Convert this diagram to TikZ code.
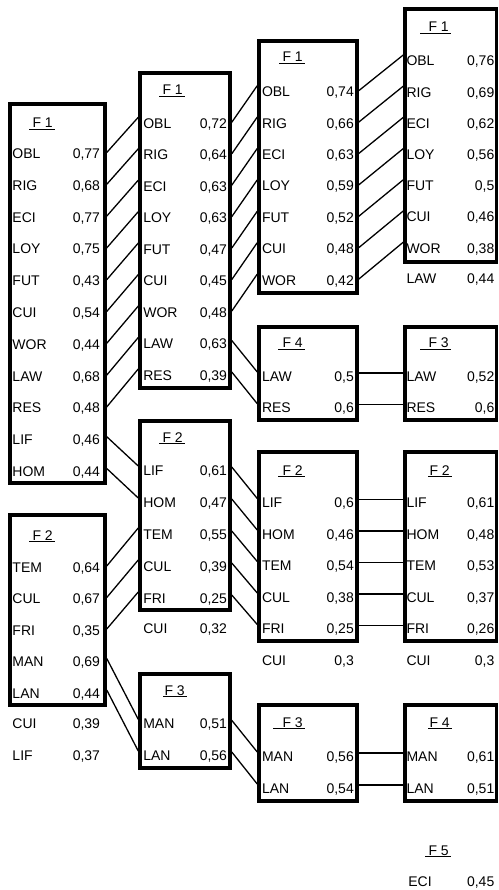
\documentclass[tikz,border=0pt]{standalone}
\usepackage{fontspec}
\setmainfont{Liberation Sans}
\usetikzlibrary{calc,fit}
\tikzset{
  txt/.style={inner sep=0pt, outer sep=0pt, font=\fontsize{14pt}{16pt}\selectfont, text height=10pt, text depth=0pt},
  lab/.style={txt, anchor=west},
  val/.style={txt, anchor=east},
  box/.style={draw, line width=3.5pt, inner sep=0pt},
  conn/.style={line width=1.3pt},
  ulin/.style={line width=1.2pt},
}
\newcommand\ent[6]{\node[lab] (#1) at (#2,#4) {#5}; \node[val] (#1v) at (#3,#4) {#6};}
\newcommand\ttl[5]{\node[lab] (#1) at (#3,#4) {#5};
  \draw[ulin] ($(#1.south west)+(#2-#3,1.5)$) -- ($(#1.south east)+(2,1.5)$);}
\newcommand\lnup[4]{\draw[conn] ($(#1.east|-#2)+(0,-1)$) -- ($(#3.west|-#4)+(0,-6)$);}
\newcommand\lndn[4]{\draw[conn] ($(#1.east|-#2)+(0,-3)$) -- ($(#3.west|-#4)+(0,-4)$);}
\newcommand\lnh[4]{\draw[conn] ($(#1.east|-#2)+(0,-3)$) -- ($(#3.west|-#4)+(0,-3)$);}
\begin{document}
\begin{tikzpicture}[x=1pt,y=-1pt]
\fill[white] (0,0) rectangle (498,890);
\useasboundingbox (0,0) rectangle (498,890);

% ---------- column A ----------
\node[box, fit={(10,104) (105,483)}] (A1) {};
\ttl{a1t}{29}{32.5}{123}{F 1}
\ent{a1obl}{12.5}{100}{153.5}{OBL}{0,77}
\ent{a1rig}{12.5}{100}{185.3}{RIG}{0,68}
\ent{a1eci}{12.5}{100}{217.1}{ECI}{0,77}
\ent{a1loy}{12.5}{100}{248.9}{LOY}{0,75}
\ent{a1fut}{12.5}{100}{280.7}{FUT}{0,43}
\ent{a1cui}{12.5}{100}{312.5}{CUI}{0,54}
\ent{a1wor}{12.5}{100}{344.3}{WOR}{0,44}
\ent{a1law}{12.5}{100}{376.1}{LAW}{0,68}
\ent{a1res}{12.5}{100}{407.9}{RES}{0,48}
\ent{a1lif}{12.5}{100}{439.7}{LIF}{0,46}
\ent{a1hom}{12.5}{100}{471.5}{HOM}{0,44}

\node[box, fit={(10,515) (105,705)}] (A2) {};
\ttl{a2t}{29}{32.5}{535}{F 2}
\ent{a2tem}{12.5}{100}{567}{TEM}{0,64}
\ent{a2cul}{12.5}{100}{598.5}{CUL}{0,67}
\ent{a2fri}{12.5}{100}{630}{FRI}{0,35}
\ent{a2man}{12.5}{100}{661.5}{MAN}{0,69}
\ent{a2lan}{12.5}{100}{693}{LAN}{0,44}
\ent{a2xcui}{12.5}{100}{723.5}{CUI}{0,39}
\ent{a2xlif}{12.5}{100}{755}{LIF}{0,37}

% ---------- column B ----------
\node[box, fit={(140,73) (230,388)}] (B1) {};
\ttl{b1t}{159}{162.5}{90}{F 1}
\ent{b1obl}{143.3}{227}{123.3}{OBL}{0,72}
\ent{b1rig}{143.3}{227}{154.8}{RIG}{0,64}
\ent{b1eci}{143.3}{227}{186.2}{ECI}{0,63}
\ent{b1loy}{143.3}{227}{217.7}{LOY}{0,63}
\ent{b1fut}{143.3}{227}{249.1}{FUT}{0,47}
\ent{b1cui}{143.3}{227}{280.6}{CUI}{0,45}
\ent{b1wor}{143.3}{227}{312.1}{WOR}{0,48}
\ent{b1law}{143.3}{227}{343.5}{LAW}{0,63}
\ent{b1res}{143.3}{227}{375}{RES}{0,39}

\node[box, fit={(140,421) (230,610)}] (B2) {};
\ttl{b2t}{159}{162.5}{437}{F 2}
\ent{b2lif}{143.3}{227}{470}{LIF}{0,61}
\ent{b2hom}{143.3}{227}{502}{HOM}{0,47}
\ent{b2tem}{143.3}{227}{534}{TEM}{0,55}
\ent{b2cul}{143.3}{227}{566}{CUL}{0,39}
\ent{b2fri}{143.3}{227}{598}{FRI}{0,25}
\ent{b2xcui}{143.3}{227}{628.5}{CUI}{0,32}

\node[box, fit={(140,674) (230,768)}] (B3) {};
\ttl{b3t}{163}{164.5}{690}{F 3}
\ent{b3man}{143.3}{227}{723.3}{MAN}{0,51}
\ent{b3lan}{143.3}{227}{755}{LAN}{0,56}

% ---------- column C ----------
\node[box, fit={(259,41) (357,293)}] (C1) {};
\ttl{c1t}{279}{282.5}{57}{F 1}
\ent{c1obl}{262}{353.8}{91.7}{OBL}{0,74}
\ent{c1rig}{262}{353.8}{123.1}{RIG}{0,66}
\ent{c1eci}{262}{353.8}{154.5}{ECI}{0,63}
\ent{c1loy}{262}{353.8}{185.9}{LOY}{0,59}
\ent{c1fut}{262}{353.8}{217.3}{FUT}{0,52}
\ent{c1cui}{262}{353.8}{248.7}{CUI}{0,48}
\ent{c1wor}{262}{353.8}{280.1}{WOR}{0,42}

\node[box, fit={(259,327) (357,420)}] (C4) {};
\ttl{c4t}{278}{282.5}{342.7}{F 4}
\ent{c4law}{262}{353.8}{376}{LAW}{0,5}
\ent{c4res}{262}{353.8}{407.7}{RES}{0,6}

\node[box, fit={(259,452) (357,641)}] (C2) {};
\ttl{c2t}{278}{282.5}{470}{F 2}
\ent{c2lif}{262}{353.8}{502.5}{LIF}{0,6}
\ent{c2hom}{262}{353.8}{534}{HOM}{0,46}
\ent{c2tem}{262}{353.8}{565.5}{TEM}{0,54}
\ent{c2cul}{262}{353.8}{597}{CUL}{0,38}
\ent{c2fri}{262}{353.8}{628.5}{FRI}{0,25}
\ent{c2xcui}{262}{353.8}{660}{CUI}{0,3}

\node[box, fit={(259,705) (357,801)}] (C3) {};
\ttl{c3t}{273}{282.5}{722.3}{F 3}
\ent{c3man}{262}{353.8}{756}{MAN}{0,56}
\ent{c3lan}{262}{353.8}{788}{LAN}{0,54}

% ---------- column D ----------
\node[box, fit={(405,9) (496.5,262)}] (D1) {};
\ttl{d1t}{420}{428.5}{26.7}{F 1}
\ent{d1obl}{406.5}{494.3}{61}{OBL}{0,76}
\ent{d1rig}{406.5}{494.3}{92.2}{RIG}{0,69}
\ent{d1eci}{406.5}{494.3}{123.4}{ECI}{0,62}
\ent{d1loy}{406.5}{494.3}{154.6}{LOY}{0,56}
\ent{d1fut}{406.5}{494.3}{185.8}{FUT}{0,5}
\ent{d1cui}{406.5}{494.3}{217}{CUI}{0,46}
\ent{d1wor}{406.5}{494.3}{248.2}{WOR}{0,38}
\ent{d1xlaw}{406.5}{494.3}{278.3}{LAW}{0,44}

\node[box, fit={(405,327) (496.5,420)}] (D3) {};
\ttl{d3t}{420}{428.5}{342.7}{F 3}
\ent{d3law}{406.5}{494.3}{376}{LAW}{0,52}
\ent{d3res}{406.5}{494.3}{407.7}{RES}{0,6}

\node[box, fit={(405,452) (496.5,641)}] (D2) {};
\ttl{d2t}{428}{429.5}{470}{F 2}
\ent{d2lif}{406.5}{494.3}{502.5}{LIF}{0,61}
\ent{d2hom}{406.5}{494.3}{534}{HOM}{0,48}
\ent{d2tem}{406.5}{494.3}{565.5}{TEM}{0,53}
\ent{d2cul}{406.5}{494.3}{597}{CUL}{0,37}
\ent{d2fri}{406.5}{494.3}{628.5}{FRI}{0,26}
\ent{d2xcui}{406.5}{494.3}{660}{CUI}{0,3}

\node[box, fit={(405,705) (496.5,801)}] (D4) {};
\ttl{d4t}{428}{429.5}{722.3}{F 4}
\ent{d4man}{406.5}{494.3}{756}{MAN}{0,61}
\ent{d4lan}{406.5}{494.3}{788}{LAN}{0,51}

\ttl{d5t}{425}{428.5}{850}{F 5}
\ent{d5eci}{408.3}{494.3}{881.7}{ECI}{0,45}

% ---------- connectors ----------
\foreach \r in {obl,rig,eci,loy,fut,cui,wor,law,res} {\lnup{A1}{a1\r}{B1}{b1\r}}
\foreach \r in {lif,hom} {\lndn{A1}{a1\r}{B2}{b2\r}}
\foreach \r in {tem,cul,fri} {\lnup{A2}{a2\r}{B2}{b2\r}}
\foreach \r in {man,lan} {\lndn{A2}{a2\r}{B3}{b3\r}}
\foreach \r in {obl,rig,eci,loy,fut,cui,wor} {\lnup{B1}{b1\r}{C1}{c1\r}}
\foreach \r in {law,res} {\lndn{B1}{b1\r}{C4}{c4\r}}
\foreach \r in {lif,hom,tem,cul,fri} {\lndn{B2}{b2\r}{C2}{c2\r}}
\foreach \r in {man,lan} {\lndn{B3}{b3\r}{C3}{c3\r}}
\foreach \r in {obl,rig,eci,loy,fut,cui,wor} {\lnup{C1}{c1\r}{D1}{d1\r}}
\foreach \r in {law,res} {\lnh{C4}{c4\r}{D3}{d3\r}}
\foreach \r in {lif,hom,tem,cul,fri} {\lnh{C2}{c2\r}{D2}{d2\r}}
\foreach \r in {man,lan} {\lnh{C3}{c3\r}{D4}{d4\r}}
\end{tikzpicture}
\end{document}
